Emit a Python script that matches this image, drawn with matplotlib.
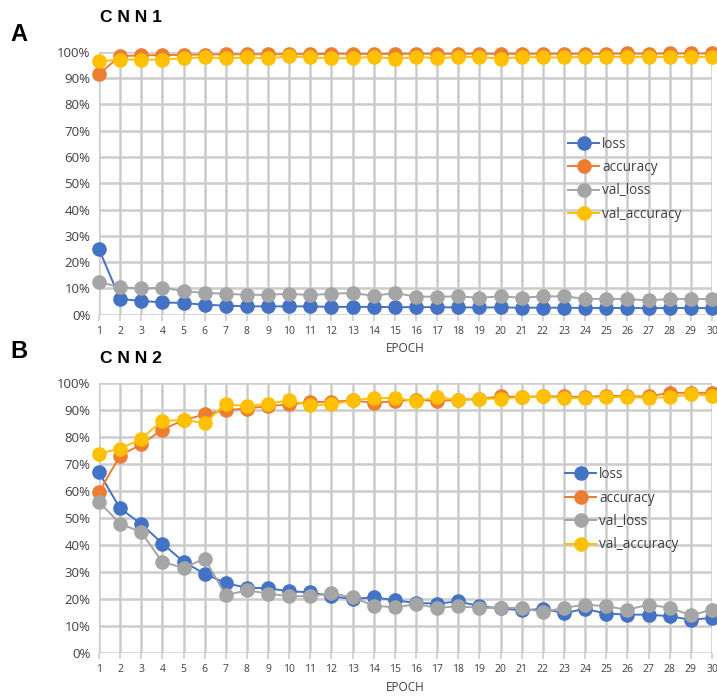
import matplotlib
matplotlib.use("Agg")
import matplotlib.pyplot as plt
import numpy as np
from matplotlib.ticker import PercentFormatter

epochs = list(range(1, 31))

# CNN1 (values in %)
cnn1_loss = [25.0, 6.0, 5.3, 4.7, 4.5, 3.8, 3.5, 3.2, 3.2, 3.2, 3.2, 3.0, 3.0, 3.0, 2.9,
             2.9, 2.9, 2.8, 2.8, 2.8, 2.7, 2.7, 2.7, 2.6, 2.6, 2.6, 2.5, 2.6, 2.6, 2.5]
cnn1_acc = [91.5, 98.3, 98.6, 98.7, 98.8, 98.9, 99.0, 99.0, 99.0, 99.0, 99.0, 99.2, 99.2, 99.1, 99.2,
            99.2, 99.2, 99.2, 99.2, 99.2, 99.2, 99.2, 99.2, 99.2, 99.2, 99.3, 99.2, 99.3, 99.3, 99.3]
cnn1_val_loss = [12.5, 10.5, 10.0, 10.3, 9.0, 8.3, 8.0, 7.6, 7.6, 8.0, 7.5, 8.0, 8.3, 7.2, 8.3,
                 6.9, 6.9, 7.0, 6.5, 7.0, 6.5, 7.0, 7.0, 6.1, 6.0, 6.0, 5.5, 6.0, 6.0, 6.0]
cnn1_val_acc = [96.3, 97.0, 97.0, 97.0, 97.5, 97.8, 97.5, 97.8, 97.5, 98.2, 97.8, 97.5, 97.5, 98.1, 97.2,
                98.0, 97.5, 98.0, 98.0, 97.3, 98.0, 97.8, 97.8, 98.0, 98.0, 98.0, 98.0, 98.0, 98.0, 98.0]

# CNN2 (values in %)
cnn2_loss = [66.9, 53.5, 47.8, 40.5, 33.8, 29.3, 25.9, 24.1, 24.0, 22.8, 22.5, 21.0, 20.0, 20.6, 19.5,
             18.5, 18.3, 19.1, 17.3, 16.5, 15.8, 16.3, 14.8, 16.3, 14.6, 14.2, 14.2, 13.6, 12.3, 13.0]
cnn2_acc = [59.5, 73.1, 77.2, 82.7, 86.2, 88.3, 89.9, 90.5, 91.4, 92.0, 92.8, 93.0, 93.5, 92.6, 93.2,
            93.8, 93.2, 93.8, 94.0, 95.0, 94.8, 95.0, 95.0, 94.7, 95.3, 95.0, 95.0, 96.3, 96.3, 96.3]
cnn2_val_loss = [55.9, 47.9, 44.7, 33.7, 31.5, 34.9, 21.4, 23.2, 22.0, 21.0, 21.0, 22.2, 20.6, 17.5, 16.9,
                 18.1, 16.7, 17.3, 16.7, 16.7, 16.7, 15.1, 16.7, 17.9, 17.3, 16.0, 17.9, 16.7, 14.0, 16.0]
cnn2_val_acc = [73.8, 75.6, 79.3, 86.0, 86.2, 85.2, 92.0, 91.4, 92.3, 93.5, 91.7, 92.0, 93.5, 94.4, 94.4,
                93.2, 94.7, 93.6, 94.0, 94.2, 94.7, 95.0, 94.4, 94.4, 94.7, 94.8, 94.4, 94.8, 95.7, 95.3]

SERIES = [("loss", "#4472C4"), ("accuracy", "#ED7D31"),
          ("val_loss", "#A5A5A5"), ("val_accuracy", "#FFC000")]
GRID = "#CCCCCC"
FONT = "Open Sans"


def draw_panel(ax, data, legend_anchor):
    for (label, color), values in zip(SERIES, data):
        ax.plot(epochs, values, color=color, lw=1.4, marker="o", markersize=9.5,
                markeredgecolor=color, label=label, clip_on=False, zorder=3)
    ax.set_xlim(1, 30)
    ax.set_ylim(0, 100)
    ax.set_xticks(epochs)
    ax.set_yticks(np.arange(0, 101, 10))
    ax.yaxis.set_major_formatter(PercentFormatter(decimals=0))
    ax.grid(True, color=GRID, lw=1.8, zorder=0)
    for s in ax.spines.values():
        s.set_visible(False)
    ax.tick_params(axis="y", length=0, labelsize=9.5, pad=6, labelcolor="#404040")
    ax.tick_params(axis="x", length=4, width=1.2, color=GRID, labelsize=7.5,
                   pad=4, labelcolor="#404040")
    for t in ax.get_xticklabels() + ax.get_yticklabels():
        t.set_fontfamily(FONT)
    ax.set_xlabel("EPOCH", fontsize=8.5, family=FONT, color="#404040", labelpad=4)
    leg = ax.legend(loc="center left", bbox_to_anchor=legend_anchor, frameon=False,
                    prop={"family": FONT, "size": 9.8}, handlelength=2.3,
                    handletextpad=0.2, labelspacing=0.62, borderpad=0, borderaxespad=0)
    for t in leg.get_texts():
        t.set_color("#404040")


fig = plt.figure(figsize=(7.17, 6.98), dpi=100)
fig.patch.set_facecolor("white")

ax1 = fig.add_axes([0.138, 0.549, 0.855, 0.377])
draw_panel(ax1, [cnn1_loss, cnn1_acc, cnn1_val_loss, cnn1_val_acc], (0.765, 0.515))
ax2 = fig.add_axes([0.138, 0.0645, 0.855, 0.387])
draw_panel(ax2, [cnn2_loss, cnn2_acc, cnn2_val_loss, cnn2_val_acc], (0.76, 0.53))

fig.text(0.015, 0.95, "A", fontsize=17, fontweight="bold", family="Liberation Sans", va="center")
fig.text(0.14, 0.975, "C N N 1", fontsize=12.5, fontweight="bold", family="Liberation Sans", va="center")
fig.text(0.015, 0.497, "B", fontsize=17, fontweight="bold", family="Liberation Sans", va="center")
fig.text(0.14, 0.487, "C N N 2", fontsize=12.5, fontweight="bold", family="Liberation Sans", va="center")

fig.savefig("out.png", dpi=100, facecolor="white")
